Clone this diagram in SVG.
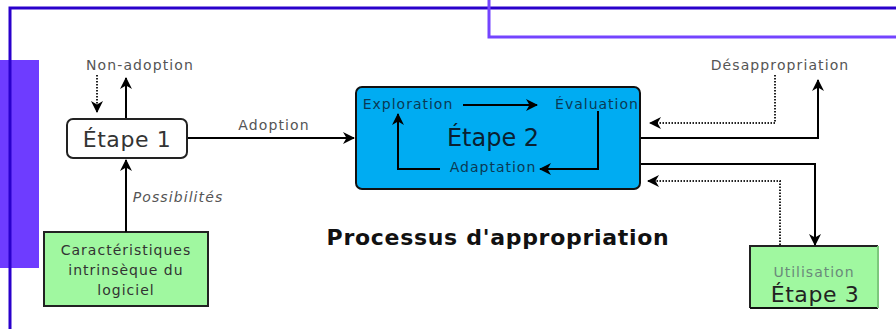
<svg xmlns="http://www.w3.org/2000/svg" width="896" height="329" viewBox="0 0 896 329">
<defs>
<marker id="ah" viewBox="0 0 12 12" refX="11" refY="6" markerWidth="12" markerHeight="12" markerUnits="userSpaceOnUse" orient="auto">
<path d="M0,0 L12,6 L0,12 L3.5,6 z" fill="#000"/>
</marker>
</defs>
<style>
text{font-family:"DejaVu Sans","Liberation Sans",sans-serif;text-anchor:middle}
.lbl{font-size:14px;fill:#555;letter-spacing:1.1px}
.sm{font-size:14px;letter-spacing:1px}
.big{font-size:22px;letter-spacing:0.6px}
.sol{fill:none;stroke:#000;stroke-width:2;marker-end:url(#ah)}
.dot{fill:none;stroke:#222;stroke-width:2;stroke-dasharray:1.5 1.5;marker-end:url(#ah)}
.grn{fill:#a0f8a0;stroke:#222;stroke-width:2}
</style>
<rect width="896" height="329" fill="#fff"/>
<rect x="0" y="60" width="39" height="208" fill="#6e3cff"/>
<path d="M10,329 V8 H896" fill="none" stroke="#2a00cc" stroke-width="3"/>
<path d="M489,0 V37 H896" fill="none" stroke="#7444ff" stroke-width="3"/>

<g id="labels">
<text class="lbl" x="140" y="70">Non-adoption</text>
<text class="lbl" x="274" y="130">Adoption</text>
<text class="lbl" x="178" y="202" style="font-style:italic">Possibilités</text>
<text class="lbl" x="780" y="70">Désappropriation</text>
<text x="498" y="245" style="font-size:22px;letter-spacing:0.7px;font-weight:bold;fill:#111">Processus d'appropriation</text>
</g>

<g id="etape1">
<rect x="67" y="119" width="120" height="39" rx="6" fill="#fff" stroke="#222" stroke-width="2"/>
<text class="big" x="127" y="147" style="fill:#333">Étape 1</text>
</g>

<g id="caracteristiques">
<rect class="grn" x="44" y="232" width="164" height="74"/>
<text class="sm" x="126" y="255" style="fill:#333">Caractéristiques</text>
<text class="sm" x="126" y="275" style="fill:#333">intrinsèque du</text>
<text class="sm" x="126" y="295" style="fill:#333">logiciel</text>
</g>

<g id="etape2">
<rect x="356" y="87" width="284" height="102" rx="6" fill="#00acf2" stroke="#111" stroke-width="2"/>
<text class="sm" x="408" y="109" style="fill:#0a3a55">Exploration</text>
<text class="sm" x="597" y="109" style="fill:#0a3a55">Évaluation</text>
<text x="493" y="146" style="font-size:24px;fill:#0a2030">Étape 2</text>
<text class="sm" x="493" y="172" style="fill:#0a3a55">Adaptation</text>
</g>

<g id="etape3">
<rect x="750" y="246" width="128" height="62" fill="#a0f8a0"/>
<path d="M750,308 V246 H878" fill="none" stroke="#222" stroke-width="2"/>
<path d="M750,308 H878" fill="none" stroke="#111" stroke-width="2"/>
<path d="M878,246 V308" fill="none" stroke="#7cc87c" stroke-width="2"/>
<text class="sm" x="814" y="277" style="fill:#6a8a7a">Utilisation</text>
<text class="big" x="815" y="302" style="fill:#222">Étape 3</text>
</g>

<g id="connectors">
<path class="dot" d="M97,75 V112"/>
<path class="sol" d="M126,118 V78"/>
<path class="sol" d="M188,138 H354"/>
<path class="sol" d="M126,232 V160"/>
<path class="sol" d="M463,105 H537"/>
<path class="sol" d="M598,111 V169 H540"/>
<path class="sol" d="M440,169 H398 V114"/>
<path class="sol" d="M641,138 H818 V80"/>
<path class="dot" d="M775,75 V123 H650"/>
<path class="sol" d="M641,164 H815 V245"/>
<path class="dot" d="M780,245 V181 H648"/>
</g>
</svg>
